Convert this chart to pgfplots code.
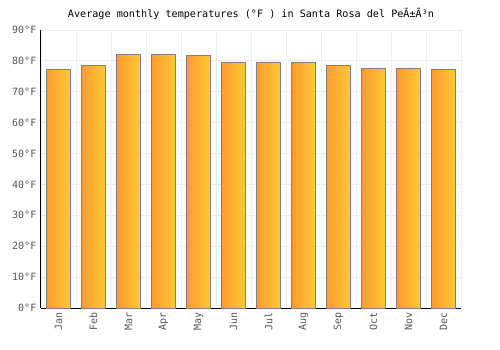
\documentclass[border=0pt]{standalone}
\usepackage{fontspec}
\setmainfont{DejaVu Sans Mono}
\usepackage{pgfplots}
\pgfplotsset{compat=1.18}
\definecolor{barL}{HTML}{FF9A2E}
\definecolor{barR}{HTML}{FFCA35}
\definecolor{barE}{HTML}{808080}
\definecolor{gridc}{HTML}{EEEEEE}
\definecolor{tickc}{HTML}{555555}
\pgfplotsset{tbar/.style={ybar, bar width=0.67, bar shift=0pt, draw=barE, line width=0.75pt, left color=barL, right color=barR}}
\begin{document}
\begin{tikzpicture}
\path[use as bounding box] (-30.75pt,-31.5pt) rectangle (344.25pt,231pt);
\begin{axis}[
  at={(0,0)}, anchor=south west,
  scale only axis, width=315pt, height=208.5pt,
  xmin=-0.5, xmax=11.5, ymin=0, ymax=90,
  axis lines=left, axis line style={-, black, line width=0.75pt},
  xtick={0,...,11},
  xticklabels={Jan,Feb,Mar,Apr,May,Jun,Jul,Aug,Sep,Oct,Nov,Dec},
  x tick label style={rotate=90, anchor=east, font=\fontsize{7.5}{8}\selectfont, text=tickc},
  ytick={0,10,...,90},
  yticklabel={\pgfmathprintnumber{\tick}°F},
  y tick label style={font=\fontsize{7.5}{8}\selectfont, text=tickc},
  /pgf/number format/assume math mode=true,
  minor xtick={-0.5,0.5,...,11.5},
  xminorgrids=true, ymajorgrids=true,
  grid style={gridc, line width=0.6pt},
  minor grid style={gridc, line width=0.6pt},
  major tick length=0pt, minor tick length=0pt,
  title={Average monthly temperatures (°F ) in Santa Rosa del PeÃ±Ã³n},
  title style={font=\fontsize{7.6}{8}\selectfont, yshift=-2pt},
]
\addplot[tbar] coordinates {(0,77.3)};
\addplot[tbar] coordinates {(1,78.6)};
\addplot[tbar] coordinates {(2,82.1)};
\addplot[tbar] coordinates {(3,82.1)};
\addplot[tbar] coordinates {(4,81.8)};
\addplot[tbar] coordinates {(5,79.6)};
\addplot[tbar] coordinates {(6,79.6)};
\addplot[tbar] coordinates {(7,79.6)};
\addplot[tbar] coordinates {(8,78.6)};
\addplot[tbar] coordinates {(9,77.6)};
\addplot[tbar] coordinates {(10,77.6)};
\addplot[tbar] coordinates {(11,77.3)};
\end{axis}
\end{tikzpicture}
\end{document}
